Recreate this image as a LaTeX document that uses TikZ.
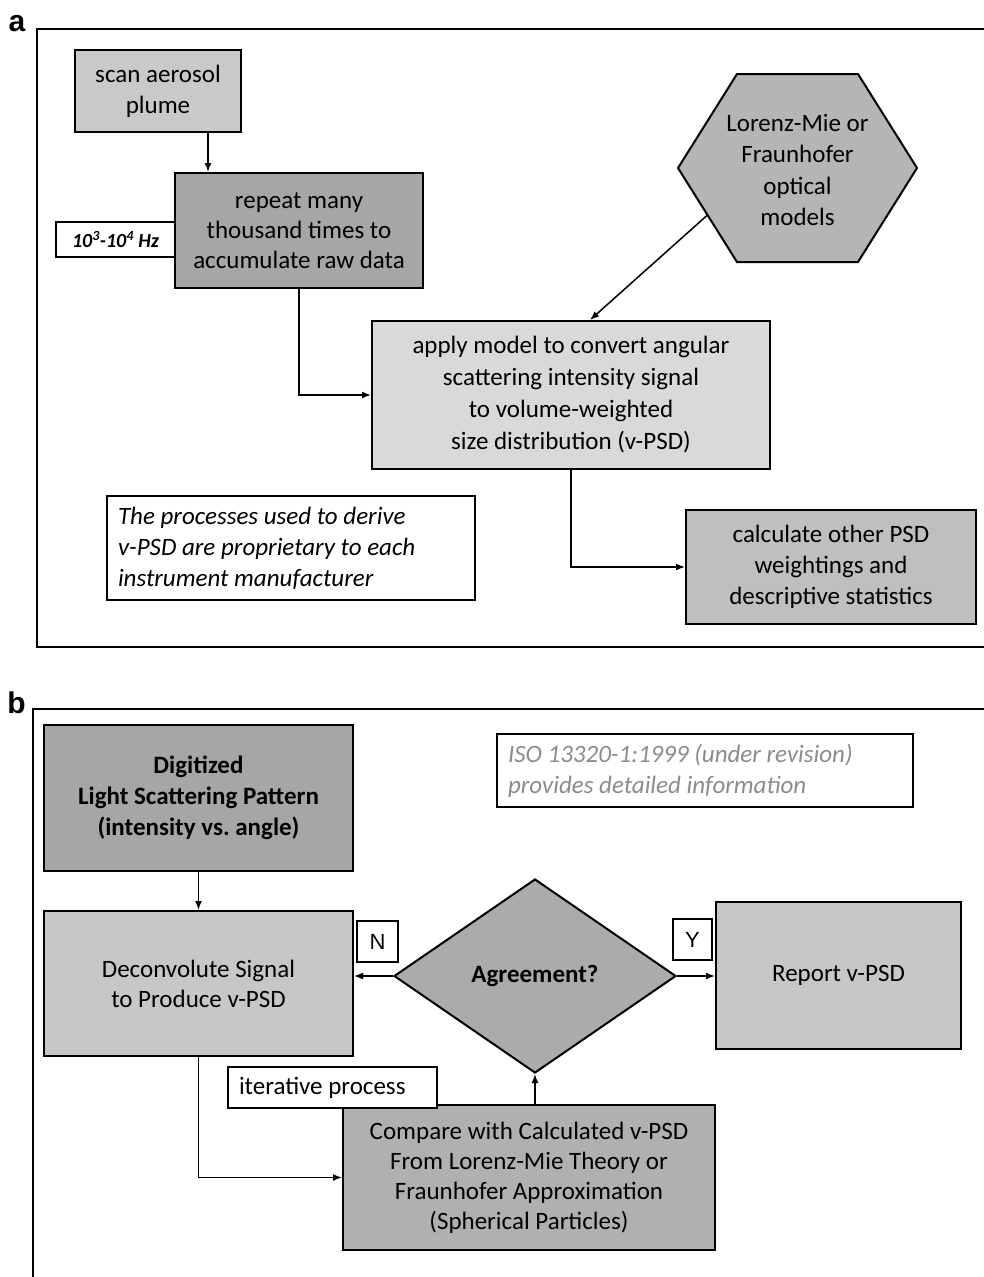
\documentclass[tikz,border=0pt]{standalone}
\usepackage{fontspec}
\setmainfont{Carlito}
\newfontfamily\labelfont{Liberation Sans}
\usetikzlibrary{shapes.geometric,arrows.meta}

\definecolor{scangray}{gray}{0.79}
\definecolor{repeatgray}{gray}{0.65}
\definecolor{applygray}{gray}{0.85}
\definecolor{calcgray}{gray}{0.75}
\definecolor{optgray}{gray}{0.71}
\definecolor{diggray}{gray}{0.65}
\definecolor{deconvgray}{gray}{0.78}
\definecolor{agreegray}{gray}{0.67}
\definecolor{comparegray}{gray}{0.69}
\definecolor{isogray}{gray}{0.55}

\tikzset{
	stepbox/.style={draw,line width=2pt,align=center,inner sep=0pt,font=\fontsize{25}{31}\selectfont},
	notebox/.style={draw,line width=2pt,fill=white,align=flush left,inner ysep=0pt,inner xsep=11pt,font=\fontsize{25}{31}\selectfont\itshape},
	tagbox/.style={draw,line width=1.6pt,fill=white,inner sep=0pt,font=\labelfont\fontsize{22}{25}\selectfont},
	arr/.style={line width=1.5pt,-{Latex[length=9pt,width=7pt]}},
	frame/.style={line width=2.5pt},
	panel/.style={inner sep=0pt,font=\labelfont\bfseries\fontsize{30}{30}\selectfont},
}

\begin{document}
\frenchspacing
\begin{tikzpicture}[x=1pt,y=-1pt]
		\useasboundingbox (0,0) rectangle (984,1277);
		% panel a
		\node[panel] (labela) at (17,24) {a};
		\draw[frame] (984,29) -| (37,647) -- (984,647);
		\node[stepbox,fill=scangray,minimum width=166pt,minimum height=82pt] (scan) at (158,91) {scan aerosol\\plume};
		\node[stepbox,fill=white,minimum width=119pt,minimum height=35pt,font=\fontsize{20}{23}\selectfont\bfseries\itshape] (rate) at (115.5,239.5) {10\textsuperscript{3}-10\textsuperscript{4} Hz};
		\node[stepbox,fill=repeatgray,minimum width=248pt,minimum height=115pt,font=\fontsize{25}{30}\selectfont] (repeat) at (299,230.5) {repeat many\\thousand times to\\accumulate raw data};
		\node[stepbox,fill=applygray,minimum width=398pt,minimum height=148pt,font=\fontsize{25}{32}\selectfont] (apply) at (571,395) {apply model to convert angular\\scattering intensity signal\\to volume-weighted\\size distribution (v-PSD)};
		\node[notebox,text width=346pt,minimum height=104pt] (note) at (291,548) {The processes used to derive\\v-PSD are proprietary to each\\instrument manufacturer};
		\node[stepbox,fill=calcgray,minimum width=290pt,minimum height=114pt] (calc) at (831,567) {calculate other PSD\\weightings and\\descriptive statistics};
		\draw[line width=2pt,fill=optgray] (737,74) -- (858,74) -- (917,168) -- (858,262) -- (737,262) -- (678,168) -- cycle;
		\node[align=center,inner sep=0pt,font=\fontsize{25}{31.5}\selectfont] (optics) at (797.5,170) {Lorenz-Mie or\\Fraunhofer\\optical\\models};
		\coordinate (optics-sw) at (707.5,215);
		\draw[arr] ([xshift=50pt]scan.south) -- ([xshift=50pt]scan.south |- repeat.north);
		\draw[arr] (repeat.south) |- (apply.west);
		\draw[arr] (optics-sw) -- ([xshift=19pt]apply.north);
		\draw[arr] (apply.south) |- (calc.west);
		% panel b
		\node[panel] (labelb) at (16.5,702.5) {b};
		\draw[frame] (984,709) -| (33,1277);
		\node[notebox,text width=394pt,minimum height=73pt,text=isogray] (iso) at (705,770.5) {ISO 13320-1:1999 (under revision)\\provides detailed information};
		\node[stepbox,fill=diggray,minimum width=309pt,minimum height=146pt,font=\fontsize{25}{31}\selectfont\bfseries] (digit) at (198.5,798) {Digitized\\Light Scattering Pattern\\(intensity vs. angle)};
		\node[stepbox,fill=deconvgray,minimum width=309pt,minimum height=145pt,font=\fontsize{25}{30}\selectfont] (deconv) at (198.5,983.5) {Deconvolute Signal\\to Produce v-PSD};
		\node[stepbox,shape=diamond,fill=agreegray,minimum width=282pt,minimum height=194pt,font=\fontsize{25}{30}\selectfont\bfseries] (agree) at (535,976) {Agreement?};
		\node[stepbox,fill=deconvgray,minimum width=245pt,minimum height=147pt] (report) at (838.5,975.5) {Report v-PSD};
		\node[tagbox,minimum width=41pt,minimum height=41pt] (no) at (377.5,941.5) {N};
		\node[tagbox,minimum width=39pt,minimum height=41pt] (yes) at (692.5,939.5) {Y};
		\node[stepbox,fill=comparegray,minimum width=372pt,minimum height=145pt,font=\fontsize{25}{30}\selectfont] (compare) at (529,1177.5) {Compare with Calculated v-PSD\\From Lorenz-Mie Theory or\\Fraunhofer Approximation\\(Spherical Particles)};
		\node[notebox,text width=187pt,minimum height=41pt,font=\fontsize{25}{30}\selectfont] (iter) at (332.5,1087.5) {iterative process};
		\draw[arr] (digit.south) -- (deconv.north);
		\draw[arr] (agree.west) -- (agree.west -| deconv.east);
		\draw[arr] (agree.east) -- (agree.east -| report.west);
		\draw[arr] (deconv.south) |- (compare.west);
		\draw[arr] (agree.south |- compare.north) -- (agree.south);
\end{tikzpicture}
\end{document}
